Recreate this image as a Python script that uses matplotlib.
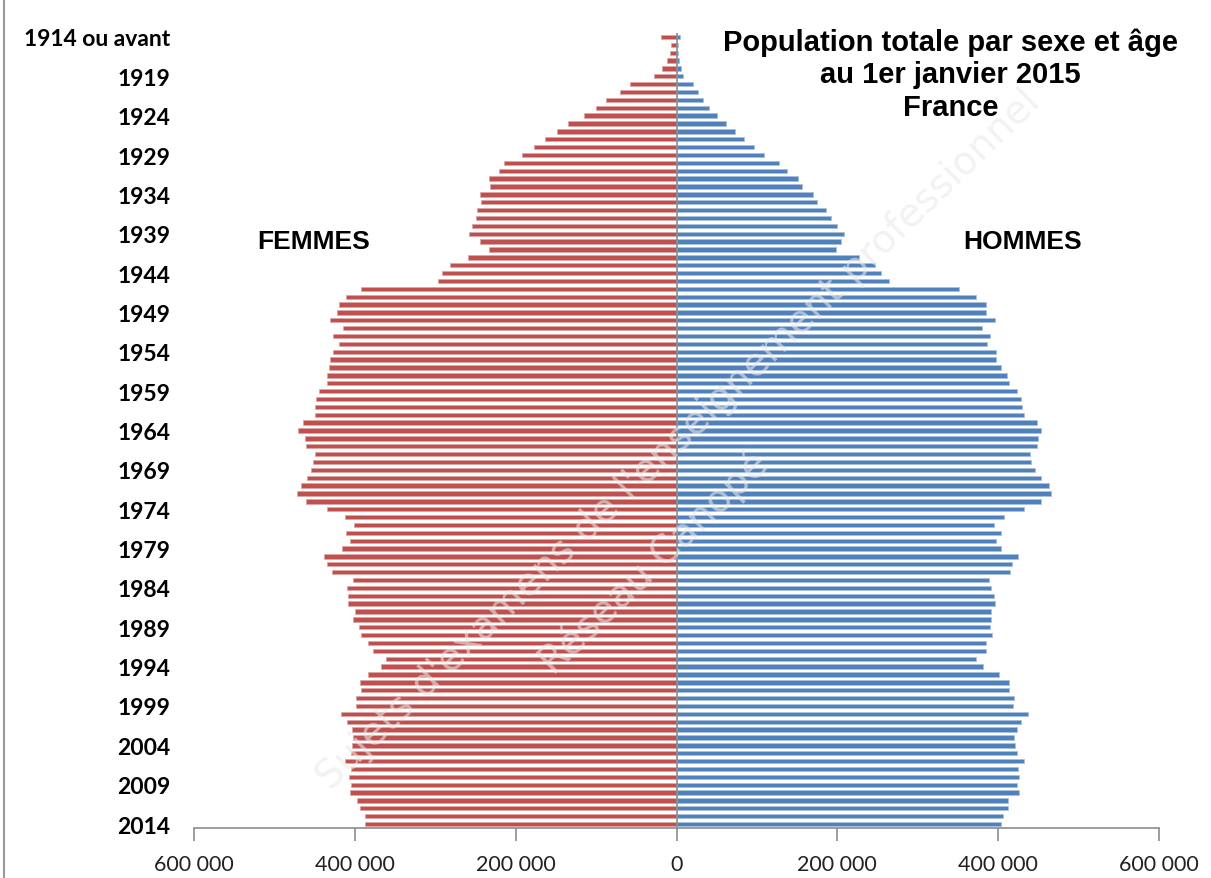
import matplotlib.pyplot as plt
import numpy as np

# années de naissance (1914 ou avant -> 2014)
annees = list(range(1914, 2015))

femmes = [
    19400, 7200, 8300, 12200, 17800, 27800, 58300, 70600, 87200, 100000,
    115600, 135000, 148900, 163300, 177800, 192200, 214400, 221000, 233700, 232400,
    244600, 243300, 248100, 249900, 254700, 257700, 244600, 233700, 259000, 281400,
    291400, 296300, 392100, 410900, 419200, 422300, 430600, 414800, 427500, 419200,
    427500, 430600, 432300, 435000, 434100, 444600, 448100, 449400, 449900, 463900,
    470400, 462500, 460800, 449900, 452500, 454700, 459500, 467400, 471700, 460800,
    435000, 412700, 401300, 410900, 406500, 416200, 438500, 434100, 428800, 401700,
    409600, 408300, 408300, 400400, 401700, 395200, 392500, 384200, 377600, 361500,
    368000, 384200, 393800, 392500, 398700, 398700, 417500, 409600, 403500, 401700,
    403500, 404800, 412700, 404800, 407800, 404800, 406500, 396900, 393800, 387300,
    387300,
]

hommes = [
    4000, 2200, 2200, 3500, 5300, 8400, 20000, 26200, 32400, 40400,
    50200, 61300, 72400, 83500, 96300, 109000, 128000, 137600, 150500, 155500,
    169600, 174100, 185700, 192000, 199800, 207700, 204800, 198600, 227200, 246300,
    254100, 263700, 351200, 371900, 384700, 384700, 395900, 379800, 389300, 386400,
    397600, 397600, 403800, 410500, 413400, 423300, 427900, 429500, 432400, 448600,
    453200, 449800, 448600, 439100, 440300, 445300, 453200, 462700, 466000, 453200,
    432400, 407100, 394300, 403800, 397600, 403800, 424500, 416700, 415000, 388100,
    391000, 394300, 395900, 391000, 391000, 389300, 392600, 384700, 384700, 371900,
    381400, 400500, 413400, 413300, 419500, 418200, 437300, 428000, 423100, 420000,
    421300, 423100, 432400, 424400, 426200, 423100, 426200, 412000, 412000, 405800,
    404000,
]

etiquettes = ["1914 ou avant" if a == 1914 else str(a) for a in annees]
x_ticks = [-600000, -400000, -200000, 0, 200000, 400000, 600000]

rouge = "#C0504D"
bleu = "#4F81BD"

fig = plt.figure(figsize=(12.11, 8.79), dpi=100)
ax = fig.add_axes([0.1602, 0.0569, 0.7969, 0.9044])

y = np.arange(len(annees))
ax.barh(y, -np.array(femmes), height=0.55, color=rouge, edgecolor="#DDA6A4", linewidth=0.6)
ax.barh(y, hommes, height=0.55, color=bleu, edgecolor="#A9C0DE", linewidth=0.6)

ax.set_ylim(len(annees) - 0.5, -0.5)
ax.set_xlim(-600000, 600000)
ax.axvline(0, color="#8C8C8C", linewidth=1.2)

ax.set_yticks(y[::5])
ax.set_yticklabels(etiquettes[::5], fontfamily="Lato", fontweight="bold", fontsize=16.5)
ax.tick_params(axis="y", length=0, pad=17)

ax.set_xticks(x_ticks)
ax.set_xticklabels([f"{abs(v):,}".replace(",", " ") for v in x_ticks],
                   fontfamily="Lato", fontsize=15.5, color="#222222")
ax.tick_params(axis="x", length=9, width=1.2, color="#8C8C8C", pad=10)

for s in ["left", "right", "top"]:
    ax.spines[s].set_visible(False)
ax.spines["bottom"].set_color("#8C8C8C")
ax.spines["bottom"].set_linewidth(1.2)

fig.text(0.785, 0.968, "Population totale par sexe et âge\nau 1er janvier 2015\nFrance",
         ha="center", va="top", fontfamily="Liberation Sans", fontweight="bold",
         fontsize=21, linespacing=1.22)
fig.text(0.259, 0.725, "FEMMES", ha="center", va="center",
         fontfamily="Liberation Sans", fontweight="bold", fontsize=19)
fig.text(0.844, 0.725, "HOMMES", ha="center", va="center",
         fontfamily="Liberation Sans", fontweight="bold", fontsize=19)

# filigrane
fig.text(0.56, 0.50, "Sujets d'examens de l'enseignement professionnel",
         rotation=44, ha="center", va="center", fontsize=28, color="#EAEAEA",
         fontfamily="DejaVu Sans", zorder=0, alpha=0.6)
fig.text(0.54, 0.36, "Réseau Canopé", rotation=44, ha="center", va="center",
         fontsize=28, color="#EAEAEA", fontfamily="DejaVu Sans", zorder=0, alpha=0.6)

fig.add_artist(plt.Line2D([0.003, 0.003], [0, 1], color="#999999", linewidth=1.5))

fig.savefig("out.png", dpi=100)
